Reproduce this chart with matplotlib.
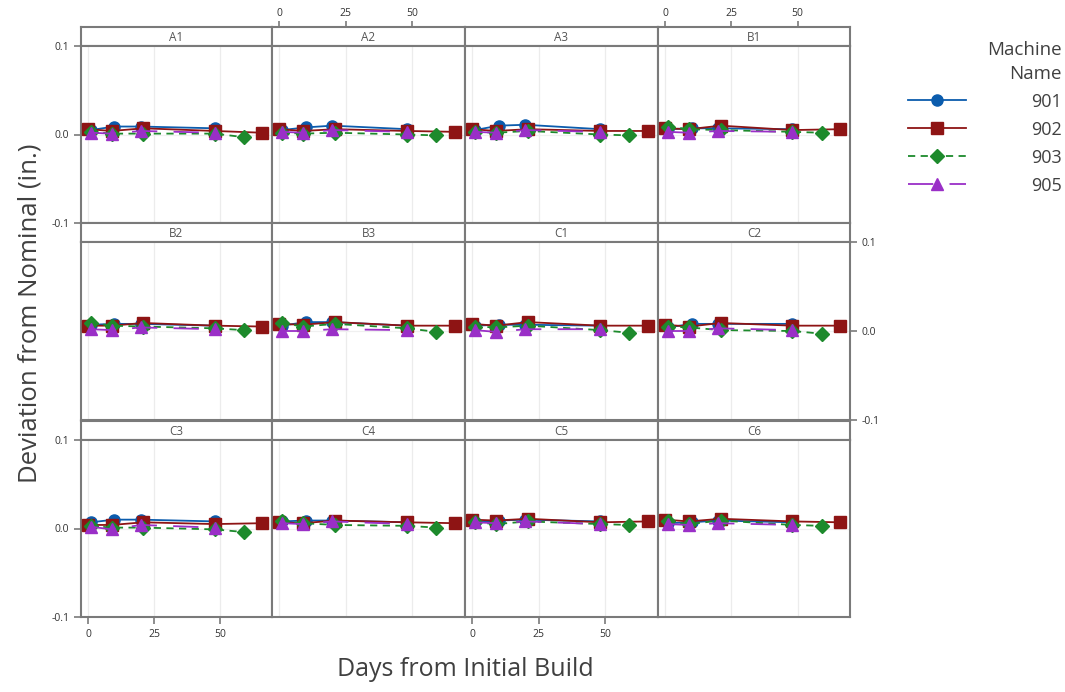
import matplotlib
matplotlib.use('Agg')
import matplotlib.pyplot as plt
from matplotlib.lines import Line2D

plt.rcParams['font.family'] = ['Open Sans', 'DejaVu Sans']

# panel names, in reading order
panels = ['A1', 'A2', 'A3', 'B1', 'B2', 'B3', 'C1', 'C2', 'C3', 'C4', 'C5', 'C6']

machines = ['901', '902', '903', '905']

# measurement days for each machine
days_901 = [1, 10, 20, 48]
days_902 = [0, 9, 21, 48, 66]
days_903 = [1, 9, 21, 48, 59]
days_905 = [1, 9, 20, 48]

# deviation from nominal (in.) per panel, one list per machine
dev_901 = {
    'A1': [0.005, 0.009, 0.009, 0.007], 'A2': [0.005, 0.008, 0.010, 0.006],
    'A3': [0.005, 0.010, 0.011, 0.006], 'B1': [0.006, 0.007, 0.007, 0.006],
    'B2': [0.007, 0.008, 0.008, 0.006], 'B3': [0.006, 0.010, 0.010, 0.006],
    'C1': [0.006, 0.007, 0.007, 0.006], 'C2': [0.004, 0.008, 0.008, 0.008],
    'C3': [0.007, 0.010, 0.010, 0.008], 'C4': [0.008, 0.009, 0.009, 0.007],
    'C5': [0.007, 0.009, 0.010, 0.008], 'C6': [0.006, 0.007, 0.009, 0.007],
}
dev_902 = {
    'A1': [0.006, 0.004, 0.007, 0.004, 0.002], 'A2': [0.006, 0.004, 0.006, 0.004, 0.003],
    'A3': [0.006, 0.004, 0.006, 0.004, 0.004], 'B1': [0.007, 0.006, 0.010, 0.005, 0.006],
    'B2': [0.006, 0.006, 0.009, 0.006, 0.005], 'B3': [0.008, 0.007, 0.010, 0.006, 0.006],
    'C1': [0.008, 0.006, 0.010, 0.006, 0.006], 'C2': [0.007, 0.005, 0.009, 0.006, 0.006],
    'C3': [0.004, 0.004, 0.007, 0.005, 0.006], 'C4': [0.007, 0.006, 0.009, 0.007, 0.006],
    'C5': [0.010, 0.009, 0.011, 0.007, 0.008], 'C6': [0.010, 0.008, 0.011, 0.008, 0.007],
}
dev_903 = {
    'A1': [0.003, 0.001, 0.001, 0.001, -0.003], 'A2': [0.002, 0.001, 0.002, 0.000, -0.001],
    'A3': [0.003, 0.002, 0.004, 0.000, -0.001], 'B1': [0.009, 0.006, 0.005, 0.003, 0.002],
    'B2': [0.009, 0.006, 0.005, 0.003, 0.001], 'B3': [0.009, 0.005, 0.008, 0.003, -0.001],
    'C1': [0.005, 0.004, 0.006, 0.001, -0.002], 'C2': [0.005, 0.004, 0.001, 0.000, -0.003],
    'C3': [0.003, 0.001, 0.001, -0.001, -0.004], 'C4': [0.008, 0.006, 0.004, 0.003, 0.001],
    'C5': [0.007, 0.005, 0.008, 0.005, 0.004], 'C6': [0.008, 0.005, 0.009, 0.004, 0.003],
}
dev_905 = {
    'A1': [0.002, 0.001, 0.004, 0.002], 'A2': [0.003, 0.002, 0.005, 0.003],
    'A3': [0.003, 0.002, 0.005, 0.003], 'B1': [0.003, 0.002, 0.004, 0.003],
    'B2': [0.002, 0.001, 0.004, 0.002], 'B3': [0.000, 0.000, 0.002, 0.001],
    'C1': [0.001, -0.001, 0.002, 0.002], 'C2': [0.000, 0.000, 0.003, 0.001],
    'C3': [0.002, -0.001, 0.004, 0.001], 'C4': [0.006, 0.005, 0.008, 0.005],
    'C5': [0.007, 0.006, 0.008, 0.005], 'C6': [0.005, 0.004, 0.006, 0.004],
}

x_ticks = [0, 25, 50]
y_ticks = [-0.1, 0.0, 0.1]
y_tick_labels = ['-0.1', '0.0', '0.1']

series = [
    (days_901, dev_901, dict(color='#0b5cad', marker='o', ms=8, ls='-', lw=1.3)),
    (days_902, dev_902, dict(color='#8e1414', marker='s', ms=8, ls='-', lw=1.3)),
    (days_903, dev_903, dict(color='#1d8a2c', marker='D', ms=7.5, ls=(0, (4, 3)), lw=1.3)),
    (days_905, dev_905, dict(color='#9a2fc7', marker='^', ms=8.5, ls=(0, (14, 9)), lw=1.3)),
]

W, H = 1065, 692
fig = plt.figure(figsize=(W / 100, H / 100), dpi=100)


def box(x0, y0, x1, y1):
    return [x0 / W, 1 - y1 / H, (x1 - x0) / W, (y1 - y0) / H]


col_edges = [81, 272, 465, 658, 850]
row_strip_top = [27, 223, 421]
row_plot_top = [46, 242, 440]
row_plot_bot = [223, 420, 617]
frame_col = '#7a7a7a'
text_col = '#404040'
tick_kw = dict(colors=frame_col, labelcolor='#333333', labelsize=7.5, width=1.2)

for i, name in enumerate(panels):
    r, c = divmod(i, 4)
    x0, x1 = col_edges[c], col_edges[c + 1]

    # strip with panel label
    sax = fig.add_axes(box(x0, row_strip_top[r], x1, row_plot_top[r]))
    sax.set_xticks([])
    sax.set_yticks([])
    for sp in sax.spines.values():
        sp.set_color(frame_col)
        sp.set_linewidth(1.5)
    sax.text(0.5, 0.45, name, ha='center', va='center', fontsize=8.5,
             color='#555555', transform=sax.transAxes)

    ax = fig.add_axes(box(x0, row_plot_top[r], x1, row_plot_bot[r]))
    ax.set_xlim(-2.65, 69.7)
    ax.set_ylim(-0.1, 0.1)
    for sp in ax.spines.values():
        sp.set_color(frame_col)
        sp.set_linewidth(1.5)
    for xt in x_ticks:
        ax.axvline(xt, color='#ececec', lw=0.9, zorder=0)
    ax.axhline(0, color='#f0f0f0', lw=0.9, zorder=0)

    for days, dev, style in series:
        ax.plot(days, dev[name], **style, zorder=3)

    ax.set_xticks(x_ticks)
    ax.set_yticks(y_ticks)
    ax.set_yticklabels(y_tick_labels)
    ax.tick_params(length=5, direction='out', **tick_kw)

    # alternate tick sides in the Minitab panel style
    show_top = r == 0 and c in (1, 3)
    show_bottom = r == 2 and c in (0, 2)
    show_left = c == 0 and r in (0, 2)
    show_right = c == 3 and r == 1
    ax.tick_params(axis='x', top=False, labeltop=False,
                   bottom=show_bottom, labelbottom=show_bottom)
    ax.tick_params(axis='y', left=show_left, labelleft=show_left,
                   right=show_right, labelright=show_right)
    if show_top:
        # top ticks sit above the strip
        tax = fig.add_axes(box(x0, row_strip_top[r], x1, row_plot_top[r]), frameon=False)
        tax.set_xlim(ax.get_xlim())
        tax.set_yticks([])
        tax.set_xticks(x_ticks)
        tax.tick_params(axis='x', top=True, labeltop=True, bottom=False, labelbottom=False,
                        length=4, pad=1.5, **tick_kw)
        tax.patch.set_visible(False)

fig.text(30 / W, 1 - 313 / H, 'Deviation from Nominal (in.)', rotation=90,
         ha='center', va='center', fontsize=18.5, color=text_col)
fig.text(465 / W, 1 - 670 / H, 'Days from Initial Build',
         ha='center', va='center', fontsize=18, color=text_col)

handles = [Line2D([], [], **style) for _, _, style in series]
leg = fig.legend(handles, machines, title='Machine\nName', loc='upper right',
                 bbox_to_anchor=(1078 / W, 1 - 25 / H), frameon=False,
                 fontsize=13, title_fontsize=13.5, handlelength=3.2,
                 handletextpad=3.6, labelspacing=0.55, alignment='right')
leg.get_title().set_color(text_col)
leg.get_title().set_multialignment('right')
leg.get_title().set_linespacing(1.4)
for t in leg.get_texts():
    t.set_color(text_col)

fig.savefig('out.png', dpi=100)
